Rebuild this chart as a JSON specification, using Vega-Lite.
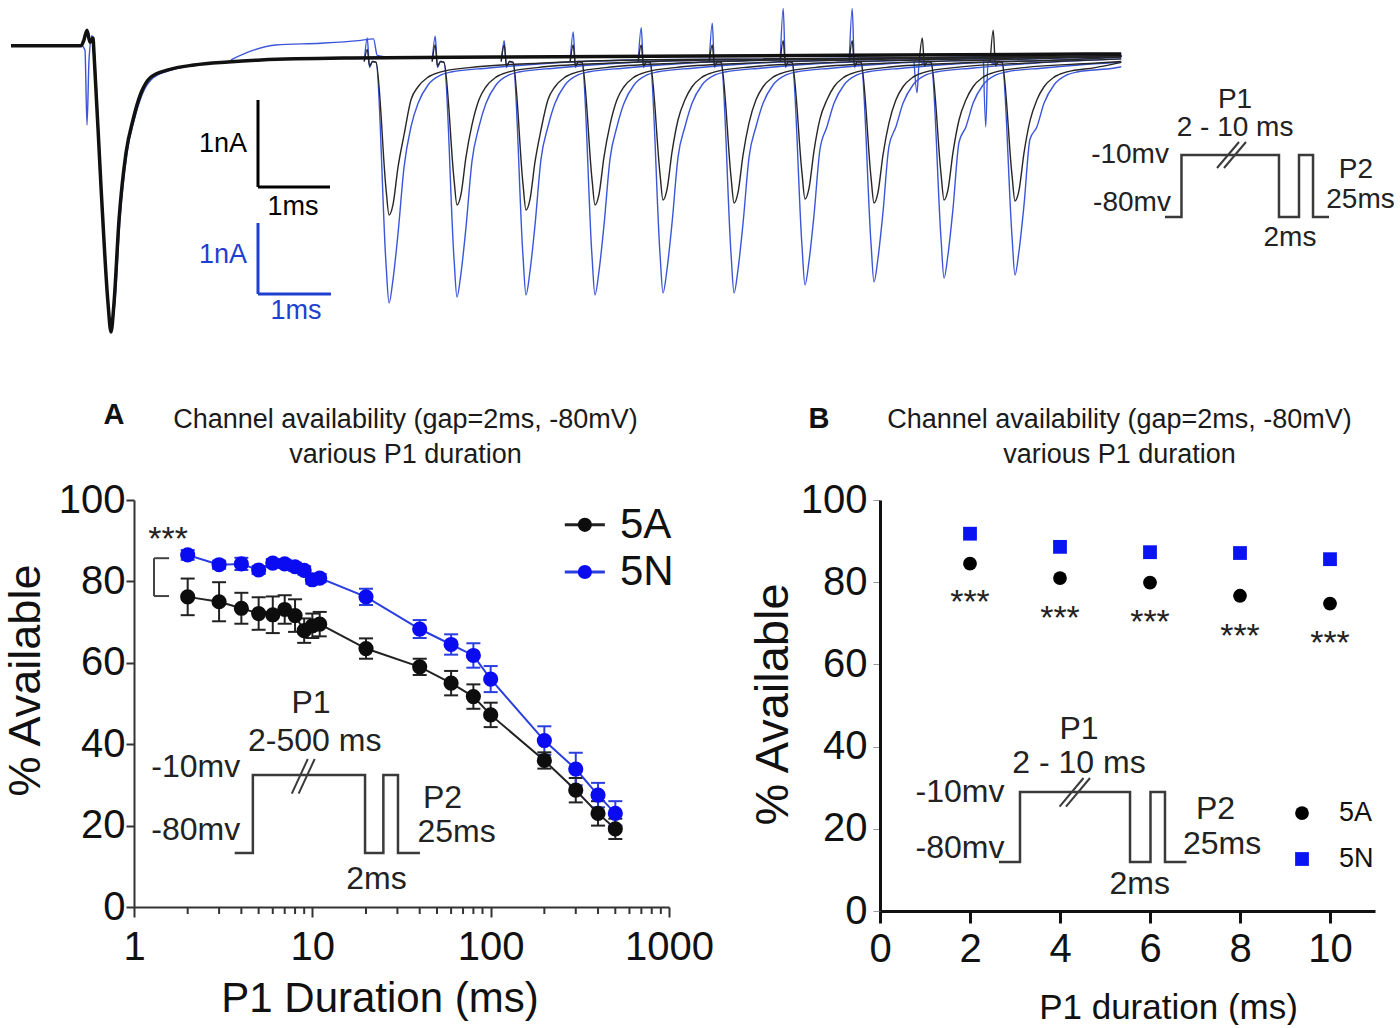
{
  "$schema": "https://vega.github.io/schema/vega-lite/v6.json",
  "padding": {"left": 3, "top": 0, "right": 0, "bottom": 0},
  "background": "white",
  "spacing": 60,
  "resolve": {"scale": {"color": "independent", "fill": "independent", "stroke": "independent", "shape": "independent"}},
  "config": {
    "view": {"stroke": null},
    "font": "Liberation Sans",
    "axis": {"grid": false}
  },
  "datasets": {
    "tr": [
      {"s":"k0","c":"k","t":-1.333,"i":-0.01},{"s":"k0","c":"k","t":-0.4,"i":-0.01},{"s":"k0","c":"k","t":-0.36,"i":0.06},{"s":"k0","c":"k","t":-0.32,"i":0.17},{"s":"k0","c":"k","t":-0.28,"i":0.03},{"s":"k0","c":"k","t":-0.24,"i":0.08},{"s":"k0","c":"k","t":-0.227,"i":-0.09},{"s":"k0","c":"k","t":-0.133,"i":-1.632},{"s":"k0","c":"k","t":-0.04,"i":-2.966},{"s":"k0","c":"k","t":0,"i":-3.299},{"s":"k0","c":"k","t":0.04,"i":-2.966},{"s":"k0","c":"k","t":0.107,"i":-2.011},{"s":"k0","c":"k","t":0.2,"i":-1.241},{"s":"k0","c":"k","t":0.293,"i":-0.862},{"s":"k0","c":"k","t":0.4,"i":-0.552},{"s":"k0","c":"k","t":0.533,"i":-0.368},{"s":"k0","c":"k","t":0.76,"i":-0.287},{"s":"k0","c":"k","t":1.107,"i":-0.23},{"s":"k0","c":"k","t":1.56,"i":-0.195},{"s":"k0","c":"k","t":2.0,"i":-0.172},{"s":"k0","c":"k","t":3.2,"i":-0.149},{"s":"k0","c":"k","t":5.2,"i":-0.138},{"s":"k0","c":"k","t":7.867,"i":-0.126},{"s":"k0","c":"k","t":10.53,"i":-0.115},{"s":"k0","c":"k","t":13.47,"i":-0.103},
      {"s":"b0","c":"b","t":-1.333,"i":0.0},{"s":"b0","c":"b","t":-0.4,"i":0.0},{"s":"b0","c":"b","t":-0.347,"i":-0.06},{"s":"b0","c":"b","t":-0.32,"i":-0.92},{"s":"b0","c":"b","t":-0.293,"i":-0.17},{"s":"b0","c":"b","t":-0.253,"i":0.11},{"s":"b0","c":"b","t":-0.227,"i":-0.05},{"s":"b0","c":"b","t":-0.133,"i":-1.6},{"s":"b0","c":"b","t":-0.04,"i":-2.95},{"s":"b0","c":"b","t":0,"i":-3.28},{"s":"b0","c":"b","t":0.053,"i":-2.95},{"s":"b0","c":"b","t":0.12,"i":-2.0},{"s":"b0","c":"b","t":0.213,"i":-1.24},{"s":"b0","c":"b","t":0.31,"i":-0.86},{"s":"b0","c":"b","t":0.42,"i":-0.56},{"s":"b0","c":"b","t":0.56,"i":-0.38},{"s":"b0","c":"b","t":0.8,"i":-0.29},{"s":"b0","c":"b","t":1.15,"i":-0.23},{"s":"b0","c":"b","t":1.6,"i":-0.195},{"s":"b0","c":"b","t":2.0,"i":-0.17},{"s":"b0","c":"b","t":3.2,"i":-0.15},{"s":"b0","c":"b","t":5.2,"i":-0.14},{"s":"b0","c":"b","t":7.867,"i":-0.128},{"s":"b0","c":"b","t":10.53,"i":-0.117},{"s":"b0","c":"b","t":13.47,"i":-0.105},
      {"s":"b11","c":"b","t":1.6,"i":-0.17},{"s":"b11","c":"b","t":1.9,"i":-0.06},{"s":"b11","c":"b","t":2.2,"i":0.0},{"s":"b11","c":"b","t":2.8,"i":0.02},{"s":"b11","c":"b","t":3.3,"i":0.05},{"s":"b11","c":"b","t":3.5,"i":0.07},{"s":"b11","c":"b","t":3.55,"i":-0.12},{"s":"b11","c":"b","t":3.8,"i":-0.15},
      {"s":"k1","c":"k","t":3.377,"i":-0.19},{"s":"k1","c":"k","t":3.417,"i":-0.05},{"s":"k1","c":"k","t":3.447,"i":-0.24},{"s":"k1","c":"k","t":3.487,"i":-0.19},{"s":"k1","c":"k","t":3.534,"i":-0.2},{"s":"k1","c":"k","t":3.667,"i":-1.654},{"s":"k1","c":"k","t":3.707,"i":-1.954},{"s":"k1","c":"k","t":3.76,"i":-1.834},{"s":"k1","c":"k","t":3.827,"i":-1.404},{"s":"k1","c":"k","t":3.907,"i":-1.034},{"s":"k1","c":"k","t":4.0,"i":-0.63},{"s":"k1","c":"k","t":4.094,"i":-0.48},{"s":"k1","c":"k","t":4.227,"i":-0.37},{"s":"k1","c":"k","t":4.4,"i":-0.31},{"s":"k1","c":"k","t":4.777,"i":-0.26},{"s":"k1","c":"k","t":5.707,"i":-0.21},{"s":"k1","c":"k","t":7.207,"i":-0.17},{"s":"k1","c":"k","t":13.47,"i":-0.13},
      {"s":"k2","c":"k","t":4.283,"i":-0.19},{"s":"k2","c":"k","t":4.323,"i":0.0},{"s":"k2","c":"k","t":4.353,"i":-0.24},{"s":"k2","c":"k","t":4.393,"i":-0.19},{"s":"k2","c":"k","t":4.44,"i":-0.2},{"s":"k2","c":"k","t":4.573,"i":-1.539},{"s":"k2","c":"k","t":4.613,"i":-1.839},{"s":"k2","c":"k","t":4.666,"i":-1.719},{"s":"k2","c":"k","t":4.733,"i":-1.289},{"s":"k2","c":"k","t":4.813,"i":-0.919},{"s":"k2","c":"k","t":4.906,"i":-0.63},{"s":"k2","c":"k","t":5.0,"i":-0.48},{"s":"k2","c":"k","t":5.133,"i":-0.37},{"s":"k2","c":"k","t":5.306,"i":-0.31},{"s":"k2","c":"k","t":5.683,"i":-0.26},{"s":"k2","c":"k","t":6.613,"i":-0.21},{"s":"k2","c":"k","t":8.113,"i":-0.17},{"s":"k2","c":"k","t":13.47,"i":-0.13},
      {"s":"k3","c":"k","t":5.203,"i":-0.19},{"s":"k3","c":"k","t":5.243,"i":0.0},{"s":"k3","c":"k","t":5.273,"i":-0.24},{"s":"k3","c":"k","t":5.313,"i":-0.19},{"s":"k3","c":"k","t":5.36,"i":-0.2},{"s":"k3","c":"k","t":5.493,"i":-1.597},{"s":"k3","c":"k","t":5.533,"i":-1.897},{"s":"k3","c":"k","t":5.586,"i":-1.777},{"s":"k3","c":"k","t":5.653,"i":-1.347},{"s":"k3","c":"k","t":5.733,"i":-0.977},{"s":"k3","c":"k","t":5.826,"i":-0.63},{"s":"k3","c":"k","t":5.92,"i":-0.48},{"s":"k3","c":"k","t":6.053,"i":-0.37},{"s":"k3","c":"k","t":6.226,"i":-0.31},{"s":"k3","c":"k","t":6.603,"i":-0.26},{"s":"k3","c":"k","t":7.533,"i":-0.21},{"s":"k3","c":"k","t":9.033,"i":-0.17},{"s":"k3","c":"k","t":13.47,"i":-0.13},
      {"s":"k4","c":"k","t":6.123,"i":-0.19},{"s":"k4","c":"k","t":6.163,"i":0.0},{"s":"k4","c":"k","t":6.193,"i":-0.24},{"s":"k4","c":"k","t":6.233,"i":-0.19},{"s":"k4","c":"k","t":6.28,"i":-0.2},{"s":"k4","c":"k","t":6.413,"i":-1.539},{"s":"k4","c":"k","t":6.453,"i":-1.839},{"s":"k4","c":"k","t":6.506,"i":-1.719},{"s":"k4","c":"k","t":6.573,"i":-1.289},{"s":"k4","c":"k","t":6.653,"i":-0.919},{"s":"k4","c":"k","t":6.746,"i":-0.63},{"s":"k4","c":"k","t":6.84,"i":-0.48},{"s":"k4","c":"k","t":6.973,"i":-0.37},{"s":"k4","c":"k","t":7.146,"i":-0.31},{"s":"k4","c":"k","t":7.523,"i":-0.26},{"s":"k4","c":"k","t":8.453,"i":-0.21},{"s":"k4","c":"k","t":9.953,"i":-0.17},{"s":"k4","c":"k","t":13.47,"i":-0.13},
      {"s":"k5","c":"k","t":7.03,"i":-0.19},{"s":"k5","c":"k","t":7.07,"i":0.0},{"s":"k5","c":"k","t":7.1,"i":-0.24},{"s":"k5","c":"k","t":7.14,"i":-0.19},{"s":"k5","c":"k","t":7.187,"i":-0.2},{"s":"k5","c":"k","t":7.32,"i":-1.482},{"s":"k5","c":"k","t":7.36,"i":-1.782},{"s":"k5","c":"k","t":7.413,"i":-1.662},{"s":"k5","c":"k","t":7.48,"i":-1.232},{"s":"k5","c":"k","t":7.56,"i":-0.862},{"s":"k5","c":"k","t":7.653,"i":-0.63},{"s":"k5","c":"k","t":7.747,"i":-0.48},{"s":"k5","c":"k","t":7.88,"i":-0.37},{"s":"k5","c":"k","t":8.053,"i":-0.31},{"s":"k5","c":"k","t":8.43,"i":-0.26},{"s":"k5","c":"k","t":9.36,"i":-0.21},{"s":"k5","c":"k","t":10.86,"i":-0.17},{"s":"k5","c":"k","t":13.47,"i":-0.13},
      {"s":"k6","c":"k","t":7.977,"i":-0.19},{"s":"k6","c":"k","t":8.017,"i":0.0},{"s":"k6","c":"k","t":8.047,"i":-0.24},{"s":"k6","c":"k","t":8.087,"i":-0.19},{"s":"k6","c":"k","t":8.134,"i":-0.2},{"s":"k6","c":"k","t":8.267,"i":-1.516},{"s":"k6","c":"k","t":8.307,"i":-1.816},{"s":"k6","c":"k","t":8.36,"i":-1.696},{"s":"k6","c":"k","t":8.427,"i":-1.266},{"s":"k6","c":"k","t":8.507,"i":-0.896},{"s":"k6","c":"k","t":8.6,"i":-0.63},{"s":"k6","c":"k","t":8.694,"i":-0.48},{"s":"k6","c":"k","t":8.827,"i":-0.37},{"s":"k6","c":"k","t":9.0,"i":-0.31},{"s":"k6","c":"k","t":9.377,"i":-0.26},{"s":"k6","c":"k","t":10.307,"i":-0.21},{"s":"k6","c":"k","t":11.807,"i":-0.17},{"s":"k6","c":"k","t":13.47,"i":-0.13},
      {"s":"k7","c":"k","t":8.923,"i":-0.19},{"s":"k7","c":"k","t":8.963,"i":0.05},{"s":"k7","c":"k","t":8.993,"i":-0.24},{"s":"k7","c":"k","t":9.033,"i":-0.19},{"s":"k7","c":"k","t":9.08,"i":-0.2},{"s":"k7","c":"k","t":9.213,"i":-1.47},{"s":"k7","c":"k","t":9.253,"i":-1.77},{"s":"k7","c":"k","t":9.306,"i":-1.65},{"s":"k7","c":"k","t":9.373,"i":-1.22},{"s":"k7","c":"k","t":9.453,"i":-0.85},{"s":"k7","c":"k","t":9.546,"i":-0.63},{"s":"k7","c":"k","t":9.64,"i":-0.48},{"s":"k7","c":"k","t":9.773,"i":-0.37},{"s":"k7","c":"k","t":9.946,"i":-0.31},{"s":"k7","c":"k","t":10.323,"i":-0.26},{"s":"k7","c":"k","t":11.253,"i":-0.21},{"s":"k7","c":"k","t":12.753,"i":-0.17},{"s":"k7","c":"k","t":13.47,"i":-0.14},
      {"s":"k8","c":"k","t":9.843,"i":-0.19},{"s":"k8","c":"k","t":9.883,"i":0.05},{"s":"k8","c":"k","t":9.913,"i":-0.24},{"s":"k8","c":"k","t":9.953,"i":-0.19},{"s":"k8","c":"k","t":10.0,"i":-0.2},{"s":"k8","c":"k","t":10.133,"i":-1.516},{"s":"k8","c":"k","t":10.173,"i":-1.816},{"s":"k8","c":"k","t":10.226,"i":-1.696},{"s":"k8","c":"k","t":10.293,"i":-1.266},{"s":"k8","c":"k","t":10.373,"i":-0.896},{"s":"k8","c":"k","t":10.466,"i":-0.63},{"s":"k8","c":"k","t":10.56,"i":-0.48},{"s":"k8","c":"k","t":10.693,"i":-0.37},{"s":"k8","c":"k","t":10.866,"i":-0.31},{"s":"k8","c":"k","t":11.243,"i":-0.26},{"s":"k8","c":"k","t":12.173,"i":-0.21},{"s":"k8","c":"k","t":13.47,"i":-0.16},
      {"s":"k9","c":"k","t":10.777,"i":-0.19},{"s":"k9","c":"k","t":10.817,"i":0.08},{"s":"k9","c":"k","t":10.847,"i":-0.24},{"s":"k9","c":"k","t":10.887,"i":-0.19},{"s":"k9","c":"k","t":10.934,"i":-0.2},{"s":"k9","c":"k","t":11.067,"i":-1.482},{"s":"k9","c":"k","t":11.107,"i":-1.782},{"s":"k9","c":"k","t":11.16,"i":-1.662},{"s":"k9","c":"k","t":11.227,"i":-1.232},{"s":"k9","c":"k","t":11.307,"i":-0.862},{"s":"k9","c":"k","t":11.4,"i":-0.63},{"s":"k9","c":"k","t":11.494,"i":-0.48},{"s":"k9","c":"k","t":11.627,"i":-0.37},{"s":"k9","c":"k","t":11.8,"i":-0.31},{"s":"k9","c":"k","t":12.177,"i":-0.26},{"s":"k9","c":"k","t":13.107,"i":-0.21},{"s":"k9","c":"k","t":13.47,"i":-0.19},
      {"s":"k10","c":"k","t":11.723,"i":-0.19},{"s":"k10","c":"k","t":11.763,"i":0.17},{"s":"k10","c":"k","t":11.793,"i":-0.24},{"s":"k10","c":"k","t":11.833,"i":-0.19},{"s":"k10","c":"k","t":11.88,"i":-0.2},{"s":"k10","c":"k","t":12.013,"i":-1.493},{"s":"k10","c":"k","t":12.053,"i":-1.793},{"s":"k10","c":"k","t":12.106,"i":-1.673},{"s":"k10","c":"k","t":12.173,"i":-1.243},{"s":"k10","c":"k","t":12.253,"i":-0.873},{"s":"k10","c":"k","t":12.346,"i":-0.63},{"s":"k10","c":"k","t":12.44,"i":-0.48},{"s":"k10","c":"k","t":12.573,"i":-0.37},{"s":"k10","c":"k","t":12.746,"i":-0.31},{"s":"k10","c":"k","t":13.123,"i":-0.26},{"s":"k10","c":"k","t":13.47,"i":-0.2},
      {"s":"b1","c":"b","t":3.377,"i":-0.19},{"s":"b1","c":"b","t":3.417,"i":0.08},{"s":"b1","c":"b","t":3.447,"i":-0.26},{"s":"b1","c":"b","t":3.487,"i":-0.19},{"s":"b1","c":"b","t":3.534,"i":-0.2},{"s":"b1","c":"b","t":3.667,"i":-2.516},{"s":"b1","c":"b","t":3.707,"i":-2.966},{"s":"b1","c":"b","t":3.76,"i":-2.696},{"s":"b1","c":"b","t":3.827,"i":-2.166},{"s":"b1","c":"b","t":3.907,"i":-1.406},{"s":"b1","c":"b","t":4.0,"i":-0.94},{"s":"b1","c":"b","t":4.094,"i":-0.67},{"s":"b1","c":"b","t":4.227,"i":-0.46},{"s":"b1","c":"b","t":4.4,"i":-0.345},{"s":"b1","c":"b","t":4.534,"i":-0.31},{"s":"b1","c":"b","t":5.037,"i":-0.264},{"s":"b1","c":"b","t":5.837,"i":-0.21},{"s":"b1","c":"b","t":7.207,"i":-0.17},{"s":"b1","c":"b","t":13.47,"i":-0.13},
      {"s":"b2","c":"b","t":4.283,"i":-0.19},{"s":"b2","c":"b","t":4.323,"i":0.1},{"s":"b2","c":"b","t":4.353,"i":-0.26},{"s":"b2","c":"b","t":4.393,"i":-0.19},{"s":"b2","c":"b","t":4.44,"i":-0.2},{"s":"b2","c":"b","t":4.573,"i":-2.447},{"s":"b2","c":"b","t":4.613,"i":-2.897},{"s":"b2","c":"b","t":4.666,"i":-2.627},{"s":"b2","c":"b","t":4.733,"i":-2.097},{"s":"b2","c":"b","t":4.813,"i":-1.337},{"s":"b2","c":"b","t":4.906,"i":-0.94},{"s":"b2","c":"b","t":5.0,"i":-0.67},{"s":"b2","c":"b","t":5.133,"i":-0.46},{"s":"b2","c":"b","t":5.306,"i":-0.345},{"s":"b2","c":"b","t":5.44,"i":-0.31},{"s":"b2","c":"b","t":5.943,"i":-0.264},{"s":"b2","c":"b","t":6.743,"i":-0.21},{"s":"b2","c":"b","t":8.113,"i":-0.17},{"s":"b2","c":"b","t":13.47,"i":-0.13},
      {"s":"b3","c":"b","t":5.203,"i":-0.19},{"s":"b3","c":"b","t":5.243,"i":0.05},{"s":"b3","c":"b","t":5.273,"i":-0.26},{"s":"b3","c":"b","t":5.313,"i":-0.19},{"s":"b3","c":"b","t":5.36,"i":-0.2},{"s":"b3","c":"b","t":5.493,"i":-2.424},{"s":"b3","c":"b","t":5.533,"i":-2.874},{"s":"b3","c":"b","t":5.586,"i":-2.604},{"s":"b3","c":"b","t":5.653,"i":-2.074},{"s":"b3","c":"b","t":5.733,"i":-1.314},{"s":"b3","c":"b","t":5.826,"i":-0.94},{"s":"b3","c":"b","t":5.92,"i":-0.67},{"s":"b3","c":"b","t":6.053,"i":-0.46},{"s":"b3","c":"b","t":6.226,"i":-0.345},{"s":"b3","c":"b","t":6.36,"i":-0.31},{"s":"b3","c":"b","t":6.863,"i":-0.264},{"s":"b3","c":"b","t":7.663,"i":-0.21},{"s":"b3","c":"b","t":9.033,"i":-0.17},{"s":"b3","c":"b","t":13.47,"i":-0.13},
      {"s":"b4","c":"b","t":6.123,"i":-0.19},{"s":"b4","c":"b","t":6.163,"i":0.15},{"s":"b4","c":"b","t":6.193,"i":-0.26},{"s":"b4","c":"b","t":6.233,"i":-0.19},{"s":"b4","c":"b","t":6.28,"i":-0.2},{"s":"b4","c":"b","t":6.413,"i":-2.424},{"s":"b4","c":"b","t":6.453,"i":-2.874},{"s":"b4","c":"b","t":6.506,"i":-2.604},{"s":"b4","c":"b","t":6.573,"i":-2.074},{"s":"b4","c":"b","t":6.653,"i":-1.314},{"s":"b4","c":"b","t":6.746,"i":-0.94},{"s":"b4","c":"b","t":6.84,"i":-0.67},{"s":"b4","c":"b","t":6.973,"i":-0.46},{"s":"b4","c":"b","t":7.146,"i":-0.345},{"s":"b4","c":"b","t":7.28,"i":-0.31},{"s":"b4","c":"b","t":7.783,"i":-0.264},{"s":"b4","c":"b","t":8.583,"i":-0.21},{"s":"b4","c":"b","t":9.953,"i":-0.17},{"s":"b4","c":"b","t":13.47,"i":-0.13},
      {"s":"b5","c":"b","t":7.03,"i":-0.19},{"s":"b5","c":"b","t":7.07,"i":0.2},{"s":"b5","c":"b","t":7.1,"i":-0.26},{"s":"b5","c":"b","t":7.14,"i":-0.19},{"s":"b5","c":"b","t":7.187,"i":-0.2},{"s":"b5","c":"b","t":7.32,"i":-2.401},{"s":"b5","c":"b","t":7.36,"i":-2.851},{"s":"b5","c":"b","t":7.413,"i":-2.581},{"s":"b5","c":"b","t":7.48,"i":-2.051},{"s":"b5","c":"b","t":7.56,"i":-1.291},{"s":"b5","c":"b","t":7.653,"i":-0.94},{"s":"b5","c":"b","t":7.747,"i":-0.67},{"s":"b5","c":"b","t":7.88,"i":-0.46},{"s":"b5","c":"b","t":8.053,"i":-0.345},{"s":"b5","c":"b","t":8.187,"i":-0.31},{"s":"b5","c":"b","t":8.69,"i":-0.264},{"s":"b5","c":"b","t":9.49,"i":-0.21},{"s":"b5","c":"b","t":10.86,"i":-0.17},{"s":"b5","c":"b","t":13.47,"i":-0.13},
      {"s":"b6","c":"b","t":7.977,"i":-0.19},{"s":"b6","c":"b","t":8.017,"i":0.25},{"s":"b6","c":"b","t":8.047,"i":-0.26},{"s":"b6","c":"b","t":8.087,"i":-0.19},{"s":"b6","c":"b","t":8.134,"i":-0.2},{"s":"b6","c":"b","t":8.267,"i":-2.401},{"s":"b6","c":"b","t":8.307,"i":-2.851},{"s":"b6","c":"b","t":8.36,"i":-2.581},{"s":"b6","c":"b","t":8.427,"i":-2.051},{"s":"b6","c":"b","t":8.507,"i":-1.291},{"s":"b6","c":"b","t":8.6,"i":-0.94},{"s":"b6","c":"b","t":8.694,"i":-0.67},{"s":"b6","c":"b","t":8.827,"i":-0.46},{"s":"b6","c":"b","t":9.0,"i":-0.345},{"s":"b6","c":"b","t":9.134,"i":-0.31},{"s":"b6","c":"b","t":9.637,"i":-0.264},{"s":"b6","c":"b","t":10.437,"i":-0.21},{"s":"b6","c":"b","t":11.807,"i":-0.17},{"s":"b6","c":"b","t":13.47,"i":-0.13},
      {"s":"b7","c":"b","t":8.923,"i":-0.19},{"s":"b7","c":"b","t":8.963,"i":0.42},{"s":"b7","c":"b","t":8.993,"i":-0.26},{"s":"b7","c":"b","t":9.033,"i":-0.19},{"s":"b7","c":"b","t":9.08,"i":-0.2},{"s":"b7","c":"b","t":9.213,"i":-2.309},{"s":"b7","c":"b","t":9.253,"i":-2.759},{"s":"b7","c":"b","t":9.306,"i":-2.489},{"s":"b7","c":"b","t":9.373,"i":-1.959},{"s":"b7","c":"b","t":9.453,"i":-1.199},{"s":"b7","c":"b","t":9.546,"i":-0.94},{"s":"b7","c":"b","t":9.64,"i":-0.67},{"s":"b7","c":"b","t":9.773,"i":-0.46},{"s":"b7","c":"b","t":9.946,"i":-0.345},{"s":"b7","c":"b","t":10.08,"i":-0.31},{"s":"b7","c":"b","t":10.583,"i":-0.264},{"s":"b7","c":"b","t":11.383,"i":-0.21},{"s":"b7","c":"b","t":12.753,"i":-0.17},{"s":"b7","c":"b","t":13.47,"i":-0.14},
      {"s":"b8","c":"b","t":9.843,"i":-0.19},{"s":"b8","c":"b","t":9.883,"i":0.42},{"s":"b8","c":"b","t":9.913,"i":-0.26},{"s":"b8","c":"b","t":9.953,"i":-0.19},{"s":"b8","c":"b","t":10.0,"i":-0.2},{"s":"b8","c":"b","t":10.133,"i":-2.274},{"s":"b8","c":"b","t":10.173,"i":-2.724},{"s":"b8","c":"b","t":10.226,"i":-2.454},{"s":"b8","c":"b","t":10.293,"i":-1.924},{"s":"b8","c":"b","t":10.373,"i":-1.164},{"s":"b8","c":"b","t":10.466,"i":-0.94},{"s":"b8","c":"b","t":10.56,"i":-0.67},{"s":"b8","c":"b","t":10.693,"i":-0.46},{"s":"b8","c":"b","t":10.866,"i":-0.345},{"s":"b8","c":"b","t":11.0,"i":-0.31},{"s":"b8","c":"b","t":11.503,"i":-0.264},{"s":"b8","c":"b","t":12.303,"i":-0.21},{"s":"b8","c":"b","t":13.47,"i":-0.16},
      {"s":"b9","c":"b","t":10.707,"i":-0.19},{"s":"b9","c":"b","t":10.747,"i":-0.55},{"s":"b9","c":"b","t":10.777,"i":-0.19},{"s":"b9","c":"b","t":10.847,"i":-0.22},{"s":"b9","c":"b","t":10.887,"i":-0.19},{"s":"b9","c":"b","t":10.934,"i":-0.2},{"s":"b9","c":"b","t":11.067,"i":-2.228},{"s":"b9","c":"b","t":11.107,"i":-2.678},{"s":"b9","c":"b","t":11.16,"i":-2.408},{"s":"b9","c":"b","t":11.227,"i":-1.878},{"s":"b9","c":"b","t":11.307,"i":-1.118},{"s":"b9","c":"b","t":11.4,"i":-0.94},{"s":"b9","c":"b","t":11.494,"i":-0.67},{"s":"b9","c":"b","t":11.627,"i":-0.46},{"s":"b9","c":"b","t":11.8,"i":-0.345},{"s":"b9","c":"b","t":11.934,"i":-0.31},{"s":"b9","c":"b","t":12.437,"i":-0.264},{"s":"b9","c":"b","t":13.237,"i":-0.21},{"s":"b9","c":"b","t":13.47,"i":-0.2},
      {"s":"b10","c":"b","t":11.633,"i":-0.19},{"s":"b10","c":"b","t":11.663,"i":-0.94},{"s":"b10","c":"b","t":11.693,"i":-0.19},{"s":"b10","c":"b","t":11.793,"i":-0.22},{"s":"b10","c":"b","t":11.833,"i":-0.19},{"s":"b10","c":"b","t":11.88,"i":-0.2},{"s":"b10","c":"b","t":12.013,"i":-2.194},{"s":"b10","c":"b","t":12.053,"i":-2.644},{"s":"b10","c":"b","t":12.106,"i":-2.374},{"s":"b10","c":"b","t":12.173,"i":-1.844},{"s":"b10","c":"b","t":12.253,"i":-1.084},{"s":"b10","c":"b","t":12.346,"i":-0.94},{"s":"b10","c":"b","t":12.44,"i":-0.67},{"s":"b10","c":"b","t":12.573,"i":-0.46},{"s":"b10","c":"b","t":12.746,"i":-0.345},{"s":"b10","c":"b","t":12.88,"i":-0.31},{"s":"b10","c":"b","t":13.383,"i":-0.264},{"s":"b10","c":"b","t":13.47,"i":-0.25}
    ],
    "sb": [
      {"x":1.96,"x2":1.96,"y":-0.632,"y2":-1.632,"c":"k"},
      {"x":1.96,"x2":2.92,"y":-1.632,"y2":-1.632,"c":"k"},
      {"x":1.96,"x2":1.96,"y":-2.046,"y2":-2.862,"c":"b"},
      {"x":1.96,"x2":2.933,"y":-2.862,"y2":-2.862,"c":"b"}
    ],
    "sl": [
      {"x":1.493,"y":-1.138,"txt":"1nA","c":"k"},
      {"x":2.427,"y":-1.862,"txt":"1ms","c":"k"},
      {"x":1.493,"y":-2.414,"txt":"1nA","c":"b"},
      {"x":2.467,"y":-3.057,"txt":"1ms","c":"b"}
    ],
    "ptL": [
      {"o":1,"x":14.053,"v":-1.977},{"o":2,"x":14.273,"v":-1.977},{"o":3,"x":14.273,"v":-1.264},{"o":4,"x":15.573,"v":-1.264},{"o":5,"x":15.573,"v":-1.977},{"o":6,"x":15.84,"v":-1.977},{"o":7,"x":15.84,"v":-1.264},{"o":8,"x":16.027,"v":-1.264},{"o":9,"x":16.027,"v":-1.977},{"o":10,"x":16.24,"v":-1.977}
    ],
    "ptS": [
      {"x":14.747,"x2":15.04,"v":-1.414,"v2":-1.115},{"x":14.84,"x2":15.133,"v":-1.414,"v2":-1.115}
    ],
    "ptT": [
      {"x":13.587,"v":-1.264,"txt":"-10mv"},{"x":13.613,"v":-1.816,"txt":"-80mv"},{"x":14.987,"v":-0.632,"txt":"P1"},{"x":14.987,"v":-0.954,"txt":"2 - 10 ms"},{"x":16.6,"v":-1.437,"txt":"P2"},{"x":16.66,"v":-1.782,"txt":"25ms"},{"x":15.72,"v":-2.218,"txt":"2ms"}
    ],
    "paL": [
      {"o":1,"x":3.67,"v":13.27},{"o":2,"x":4.64,"v":13.27},{"o":3,"x":4.64,"v":32.43},{"o":4,"x":19.75,"v":32.43},{"o":5,"x":19.75,"v":13.27},{"o":6,"x":25.02,"v":13.27},{"o":7,"x":25.02,"v":32.43},{"o":8,"x":30.22,"v":32.43},{"o":9,"x":30.22,"v":13.27},{"o":10,"x":40.12,"v":13.27}
    ],
    "paS": [
      {"x":7.67,"x2":9.43,"v":27.86,"v2":36.36},{"x":8.38,"x2":10.31,"v":27.86,"v2":36.36}
    ],
    "paT": [
      {"x":9.83,"v":50.2,"txt":"P1"},{"x":10.31,"v":40.9,"txt":"2-500 ms"},{"x":2.22,"v":34.4,"txt":"-10mv"},{"x":2.22,"v":18.9,"txt":"-80mv"},{"x":53.7,"v":26.9,"txt":"P2"},{"x":64.4,"v":18.4,"txt":"25ms"},{"x":22.88,"v":6.9,"txt":"2ms"}
    ],
    "minA": [
      {"d":2},{"d":3},{"d":4},{"d":5},{"d":6},{"d":7},{"d":8},{"d":9},
      {"d":20},{"d":30},{"d":40},{"d":50},{"d":60},{"d":70},{"d":80},{"d":90},
      {"d":200},{"d":300},{"d":400},{"d":500},{"d":600},{"d":700},{"d":800},{"d":900}
    ],
    "pa": [
      {"d":2,"g":"5A","v":76.2,"lo":71.7,"hi":80.7},{"d":3,"g":"5A","v":75.0,"lo":70.2,"hi":79.8},{"d":4,"g":"5A","v":73.4,"lo":69.6,"hi":77.2},{"d":5,"g":"5A","v":72.1,"lo":68.1,"hi":76.1},{"d":6,"g":"5A","v":71.8,"lo":67.3,"hi":76.3},{"d":7,"g":"5A","v":73.1,"lo":69.6,"hi":76.6},{"d":8,"g":"5A","v":71.6,"lo":67.6,"hi":75.6},{"d":9,"g":"5A","v":67.9,"lo":64.9,"hi":70.9},{"d":10,"g":"5A","v":69.1,"lo":66.1,"hi":72.1},{"d":11,"g":"5A","v":69.5,"lo":66.5,"hi":72.5},{"d":20,"g":"5A","v":63.5,"lo":61.0,"hi":66.0},{"d":40,"g":"5A","v":59.0,"lo":57.0,"hi":61.0},{"d":60,"g":"5A","v":55.0,"lo":52.0,"hi":58.0},{"d":80,"g":"5A","v":51.7,"lo":48.7,"hi":54.7},{"d":100,"g":"5A","v":47.2,"lo":44.2,"hi":50.2},{"d":200,"g":"5A","v":36.0,"lo":34.0,"hi":38.0},{"d":300,"g":"5A","v":28.7,"lo":25.7,"hi":31.7},{"d":400,"g":"5A","v":23.0,"lo":20.0,"hi":26.0},{"d":500,"g":"5A","v":19.2,"lo":16.7,"hi":21.7},
      {"d":2,"g":"5N","v":86.5,"lo":85.3,"hi":87.7},{"d":3,"g":"5N","v":84.1,"lo":83.1,"hi":85.1},{"d":4,"g":"5N","v":84.3,"lo":82.8,"hi":85.8},{"d":5,"g":"5N","v":82.8,"lo":81.8,"hi":83.8},{"d":6,"g":"5N","v":84.5,"lo":83.5,"hi":85.5},{"d":7,"g":"5N","v":84.3,"lo":83.3,"hi":85.3},{"d":8,"g":"5N","v":83.6,"lo":82.6,"hi":84.6},{"d":9,"g":"5N","v":82.7,"lo":81.7,"hi":83.7},{"d":10,"g":"5N","v":80.4,"lo":79.4,"hi":81.4},{"d":11,"g":"5N","v":80.8,"lo":79.8,"hi":81.8},{"d":20,"g":"5N","v":76.2,"lo":74.2,"hi":78.2},{"d":40,"g":"5N","v":68.3,"lo":66.1,"hi":70.5},{"d":60,"g":"5N","v":64.5,"lo":62.0,"hi":67.0},{"d":80,"g":"5N","v":61.8,"lo":58.8,"hi":64.8},{"d":100,"g":"5N","v":56.0,"lo":52.8,"hi":59.2},{"d":200,"g":"5N","v":40.9,"lo":37.4,"hi":44.4},{"d":300,"g":"5N","v":33.9,"lo":29.9,"hi":37.9},{"d":400,"g":"5N","v":27.5,"lo":24.5,"hi":30.5},{"d":500,"g":"5N","v":23.0,"lo":20.0,"hi":26.0}
    ],
    "legA": [
      {"g":"5A","x1":260.4,"x2":436.9,"xc":337.4,"xt":530.5,"y":93.9},
      {"g":"5N","x1":260.4,"x2":436.9,"xc":337.4,"xt":530.5,"y":82.3}
    ],
    "br": [
      {"x":1.295,"x2":1.295,"y":76.4,"y2":85.7},{"x":1.295,"x2":1.573,"y":85.7,"y2":85.7},{"x":1.295,"x2":1.573,"y":76.4,"y2":76.4}
    ],
    "starA": [{"x":1.554,"y":92.1,"txt":"***"}],
    "letA": [{"x":0.772,"y":120.9,"txt":"A"}],
    "pbL": [
      {"o":1,"x":2.644,"v":11.92},{"o":2,"x":3.111,"v":11.92},{"o":3,"x":3.111,"v":28.95},{"o":4,"x":5.556,"v":28.95},{"o":5,"x":5.556,"v":11.92},{"o":6,"x":6.011,"v":11.92},{"o":7,"x":6.011,"v":28.95},{"o":8,"x":6.333,"v":28.95},{"o":9,"x":6.333,"v":11.92},{"o":10,"x":6.811,"v":11.92}
    ],
    "pbS": [
      {"x":3.991,"x2":4.522,"v":25.38,"v2":32.36},{"x":4.133,"x2":4.667,"v":25.38,"v2":32.36}
    ],
    "pbT": [
      {"x":4.422,"v":44.28,"txt":"P1"},{"x":4.422,"v":36.13,"txt":"2 - 10 ms"},{"x":1.778,"v":28.86,"txt":"-10mv"},{"x":1.778,"v":15.43,"txt":"-80mv"},{"x":7.456,"v":24.87,"txt":"P2"},{"x":7.6,"v":16.42,"txt":"25ms"},{"x":5.771,"v":6.47,"txt":"2ms"}
    ],
    "pb": [
      {"d":2,"g":"5A","v":84.5},{"d":4,"g":"5A","v":81.0},{"d":6,"g":"5A","v":79.9},{"d":8,"g":"5A","v":76.7},{"d":10,"g":"5A","v":74.8},
      {"d":2,"g":"5N","v":91.8},{"d":4,"g":"5N","v":88.6},{"d":6,"g":"5N","v":87.3},{"d":8,"g":"5N","v":87.1},{"d":10,"g":"5N","v":85.6}
    ],
    "legB": [
      {"g":"5A","x":9.378,"xt":10.2,"y":23.84},
      {"g":"5N","x":9.378,"xt":10.2,"y":12.65}
    ],
    "starB": [{"d":2,"y":76.8},{"d":4,"y":73.1},{"d":6,"y":72.1},{"d":8,"y":68.7},{"d":10,"y":66.9}],
    "letB": [{"x":-1.356,"y":119.7,"txt":"B"}]
  },
  "vconcat": [
    {
      "width": 1264,
      "height": 340,
      "layer": [
        {"data": {"name": "tr"}, "transform": [{"filter": "datum.c == 'b'"}],
         "mark": {"type": "line", "color": "#3b55d9", "strokeWidth": 1.4, "interpolate": "monotone", "strokeJoin": "round"},
         "encoding": {"x": {"field": "t", "type": "quantitative", "scale": {"domain": [0.3067, 17.16]}, "axis": null},
                      "y": {"field": "i", "type": "quantitative", "scale": {"domain": [-3.391, 0.517]}, "axis": null},
                      "detail": {"field": "s"}}},
        {"data": {"name": "tr"}, "transform": [{"filter": "datum.c == 'k' && datum.s != 'k0'"}],
         "mark": {"type": "line", "color": "#262626", "strokeWidth": 1.4, "interpolate": "monotone", "strokeJoin": "round"},
         "encoding": {"x": {"field": "t", "type": "quantitative", "scale": {"domain": [0.3067, 17.16]}, "axis": null},
                      "y": {"field": "i", "type": "quantitative", "scale": {"domain": [-3.391, 0.517]}, "axis": null},
                      "detail": {"field": "s"}}},
        {"data": {"name": "tr"}, "transform": [{"filter": "datum.s == 'k0'"}],
         "mark": {"type": "line", "color": "#111111", "strokeWidth": 3.5, "interpolate": "monotone", "strokeJoin": "round"},
         "encoding": {"x": {"field": "t", "type": "quantitative", "scale": {"domain": [0.3067, 17.16]}, "axis": null},
                      "y": {"field": "i", "type": "quantitative", "scale": {"domain": [-3.391, 0.517]}, "axis": null}}},
        {"data": {"name": "sb"},
         "mark": {"type": "rule", "strokeWidth": 3},
         "encoding": {"x": {"field": "x", "type": "quantitative", "scale": {"domain": [0.3067, 17.16]}, "axis": null},
                      "x2": {"field": "x2"},
                      "y": {"field": "y", "type": "quantitative", "scale": {"domain": [-3.391, 0.517]}, "axis": null},
                      "y2": {"field": "y2"},
                      "color": {"field": "c", "type": "nominal", "scale": {"domain": ["k", "b"], "range": ["#000000", "#1f3fd0"]}, "legend": null}}},
        {"data": {"name": "sl"},
         "mark": {"type": "text", "fontSize": 27, "font": "Liberation Sans"},
         "encoding": {"x": {"field": "x", "type": "quantitative", "scale": {"domain": [0.3067, 17.16]}, "axis": null},
                      "y": {"field": "y", "type": "quantitative", "scale": {"domain": [-3.391, 0.517]}, "axis": null},
                      "text": {"field": "txt"},
                      "color": {"field": "c", "type": "nominal", "scale": {"domain": ["k", "b"], "range": ["#000000", "#1f3fd0"]}, "legend": null}}},
        {"data": {"name": "ptL"},
         "mark": {"type": "line", "color": "#3a3a3a", "strokeWidth": 2.5},
         "encoding": {"x": {"field": "x", "type": "quantitative", "scale": {"domain": [0.3067, 17.16]}, "axis": null},
                      "y": {"field": "v", "type": "quantitative", "scale": {"domain": [-3.391, 0.517]}, "axis": null},
                      "order": {"field": "o"}}},
        {"data": {"name": "ptS"},
         "mark": {"type": "rule", "color": "#3a3a3a", "strokeWidth": 2},
         "encoding": {"x": {"field": "x", "type": "quantitative", "scale": {"domain": [0.3067, 17.16]}, "axis": null},
                      "x2": {"field": "x2"},
                      "y": {"field": "v", "type": "quantitative", "scale": {"domain": [-3.391, 0.517]}, "axis": null},
                      "y2": {"field": "v2"}}},
        {"data": {"name": "ptT"},
         "mark": {"type": "text", "fontSize": 28, "font": "Liberation Sans", "color": "#222222"},
         "encoding": {"x": {"field": "x", "type": "quantitative", "scale": {"domain": [0.3067, 17.16]}, "axis": null},
                      "y": {"field": "v", "type": "quantitative", "scale": {"domain": [-3.391, 0.517]}, "axis": null},
                      "text": {"field": "txt"}}}
      ]
    },
    {
      "spacing": 35,
      "resolve": {"scale": {"color": "independent", "fill": "independent", "stroke": "independent", "shape": "independent"}},
      "hconcat": [
        {
          "width": 535,
          "height": 407,
          "title": {"text": ["Channel availability (gap=2ms, -80mV)", "various P1 duration"], "fontSize": 27, "font": "Liberation Sans", "fontWeight": "normal", "color": "#1a1a1a", "anchor": "middle", "frame": "group", "offset": -68, "lineHeight": 35, "dx": 4},
          "layer": [
            {"data": {"name": "paL"},
             "mark": {"type": "line", "color": "#3a3a3a", "strokeWidth": 2.5},
             "encoding": {"x": {"field": "x", "type": "quantitative", "scale": {"type": "log", "domain": [1, 1000]}},
                          "y": {"field": "v", "type": "quantitative", "scale": {"domain": [0, 100]}},
                          "order": {"field": "o"}}},
            {"data": {"name": "paS"},
             "mark": {"type": "rule", "color": "#3a3a3a", "strokeWidth": 2},
             "encoding": {"x": {"field": "x", "type": "quantitative", "scale": {"type": "log", "domain": [1, 1000]}},
                          "x2": {"field": "x2"},
                          "y": {"field": "v", "type": "quantitative", "scale": {"domain": [0, 100]}},
                          "y2": {"field": "v2"}}},
            {"data": {"name": "paT"},
             "mark": {"type": "text", "fontSize": 32, "font": "Liberation Sans", "color": "#222222"},
             "encoding": {"x": {"field": "x", "type": "quantitative", "scale": {"type": "log", "domain": [1, 1000]}},
                          "y": {"field": "v", "type": "quantitative", "scale": {"domain": [0, 100]}},
                          "text": {"field": "txt"}}},
            {"data": {"name": "minA"},
             "mark": {"type": "tick", "orient": "vertical", "size": 6, "thickness": 2, "color": "#333333", "opacity": 1, "yOffset": 4},
             "encoding": {"x": {"field": "d", "type": "quantitative", "scale": {"type": "log", "domain": [1, 1000]}},
                          "y": {"datum": 0, "type": "quantitative", "scale": {"domain": [0, 100]}}}},
            {"data": {"name": "pa"},
             "mark": {"type": "rule", "strokeWidth": 2},
             "encoding": {"x": {"field": "d", "type": "quantitative", "scale": {"type": "log", "domain": [1, 1000]}},
                          "y": {"field": "lo", "type": "quantitative", "scale": {"domain": [0, 100]}},
                          "y2": {"field": "hi"},
                          "color": {"field": "g", "type": "nominal", "scale": {"domain": ["5A", "5N"], "range": ["#222222", "#2a3ee0"]}, "legend": null}}},
            {"data": {"name": "pa"},
             "mark": {"type": "tick", "orient": "horizontal", "size": 14, "thickness": 2, "opacity": 1},
             "encoding": {"x": {"field": "d", "type": "quantitative", "scale": {"type": "log", "domain": [1, 1000]}},
                          "y": {"field": "lo", "type": "quantitative", "scale": {"domain": [0, 100]}},
                          "color": {"field": "g", "type": "nominal", "scale": {"domain": ["5A", "5N"], "range": ["#222222", "#2a3ee0"]}, "legend": null}}},
            {"data": {"name": "pa"},
             "mark": {"type": "tick", "orient": "horizontal", "size": 14, "thickness": 2, "opacity": 1},
             "encoding": {"x": {"field": "d", "type": "quantitative", "scale": {"type": "log", "domain": [1, 1000]}},
                          "y": {"field": "hi", "type": "quantitative", "scale": {"domain": [0, 100]}},
                          "color": {"field": "g", "type": "nominal", "scale": {"domain": ["5A", "5N"], "range": ["#222222", "#2a3ee0"]}, "legend": null}}},
            {"data": {"name": "pa"},
             "mark": {"type": "line", "strokeWidth": 2},
             "encoding": {"x": {"field": "d", "type": "quantitative", "scale": {"type": "log", "domain": [1, 1000]},
                                "axis": {"title": "P1 Duration (ms)", "values": [1, 10, 100, 1000], "format": "d",
                                         "tickSize": 10, "tickWidth": 2, "tickColor": "#333333", "domainColor": "#333333", "domainWidth": 2,
                                         "labelFont": "Liberation Sans", "labelFontSize": 40, "labelColor": "#111111", "labelPadding": 10,
                                         "labelFlush": false, "labelOverlap": false, "labelBound": false,
                                         "titleFont": "Liberation Sans", "titleFontSize": 42, "titleFontWeight": "normal", "titleColor": "#111111",
                                         "titleX": 245.5, "titleY": 91, "titleBaseline": "middle", "titleAlign": "center"}},
                          "y": {"field": "v", "type": "quantitative", "scale": {"domain": [0, 100]},
                                "axis": {"title": "% Available", "values": [0, 20, 40, 60, 80, 100],
                                         "tickSize": 8, "tickWidth": 2, "tickColor": "#333333", "domainColor": "#333333", "domainWidth": 2,
                                         "labelFont": "Liberation Sans", "labelFontSize": 40, "labelColor": "#111111", "labelPadding": 1,
                                         "labelFlush": false, "labelOverlap": false,
                                         "titleFont": "Liberation Sans", "titleFontSize": 45, "titleFontWeight": "normal", "titleColor": "#111111",
                                         "titleX": -108.5, "titleY": 180, "titleBaseline": "middle", "titleAlign": "center", "titleAngle": 270}},
                          "color": {"field": "g", "type": "nominal", "scale": {"domain": ["5A", "5N"], "range": ["#222222", "#2a3ee0"]}, "legend": null}}},
            {"data": {"name": "pa"},
             "mark": {"type": "point", "filled": true, "size": 230, "strokeWidth": 1, "opacity": 1},
             "encoding": {"x": {"field": "d", "type": "quantitative", "scale": {"type": "log", "domain": [1, 1000]}},
                          "y": {"field": "v", "type": "quantitative", "scale": {"domain": [0, 100]}},
                          "fill": {"field": "g", "type": "nominal", "scale": {"domain": ["5A", "5N"], "range": ["#0d0d0d", "#0b0bf2"]}, "legend": null}}},
            {"data": {"name": "legA"},
             "mark": {"type": "rule", "strokeWidth": 3},
             "encoding": {"x": {"field": "x1", "type": "quantitative", "scale": {"type": "log", "domain": [1, 1000]}},
                          "x2": {"field": "x2"},
                          "y": {"field": "y", "type": "quantitative", "scale": {"domain": [0, 100]}},
                          "color": {"field": "g", "type": "nominal", "scale": {"domain": ["5A", "5N"], "range": ["#222222", "#2a3ee0"]}, "legend": null}}},
            {"data": {"name": "legA"},
             "mark": {"type": "point", "filled": true, "size": 200, "opacity": 1},
             "encoding": {"x": {"field": "xc", "type": "quantitative", "scale": {"type": "log", "domain": [1, 1000]}},
                          "y": {"field": "y", "type": "quantitative", "scale": {"domain": [0, 100]}},
                          "fill": {"field": "g", "type": "nominal", "scale": {"domain": ["5A", "5N"], "range": ["#0d0d0d", "#0b0bf2"]}, "legend": null}}},
            {"data": {"name": "legA"},
             "mark": {"type": "text", "fontSize": 42, "font": "Liberation Sans", "color": "#111111", "align": "left"},
             "encoding": {"x": {"field": "xt", "type": "quantitative", "scale": {"type": "log", "domain": [1, 1000]}},
                          "y": {"field": "y", "type": "quantitative", "scale": {"domain": [0, 100]}},
                          "text": {"field": "g"}}},
            {"data": {"name": "br"},
             "mark": {"type": "rule", "strokeWidth": 2, "color": "#444444"},
             "encoding": {"x": {"field": "x", "type": "quantitative", "scale": {"type": "log", "domain": [1, 1000]}},
                          "x2": {"field": "x2"},
                          "y": {"field": "y", "type": "quantitative", "scale": {"domain": [0, 100]}},
                          "y2": {"field": "y2"}}},
            {"data": {"name": "starA"},
             "mark": {"type": "text", "fontSize": 34, "font": "Liberation Sans", "color": "#222222", "dy": 8},
             "encoding": {"x": {"field": "x", "type": "quantitative", "scale": {"type": "log", "domain": [1, 1000]}},
                          "y": {"field": "y", "type": "quantitative", "scale": {"domain": [0, 100]}},
                          "text": {"field": "txt"}}},
            {"data": {"name": "letA"},
             "mark": {"type": "text", "fontSize": 29, "font": "Liberation Sans", "fontWeight": "bold", "color": "#111111"},
             "encoding": {"x": {"field": "x", "type": "quantitative", "scale": {"type": "log", "domain": [1, 1000]}},
                          "y": {"field": "y", "type": "quantitative", "scale": {"domain": [0, 100]}},
                          "text": {"field": "txt"}}}
          ]
        },
        {
          "width": 495,
          "height": 411,
          "title": {"text": ["Channel availability (gap=2ms, -80mV)", "various P1 duration"], "fontSize": 27, "font": "Liberation Sans", "fontWeight": "normal", "color": "#1a1a1a", "anchor": "middle", "frame": "group", "offset": -64, "lineHeight": 35, "dx": -8},
          "layer": [
            {"data": {"name": "pbL"},
             "mark": {"type": "line", "color": "#3a3a3a", "strokeWidth": 2.5},
             "encoding": {"x": {"field": "x", "type": "quantitative", "scale": {"domain": [0, 11]}},
                          "y": {"field": "v", "type": "quantitative", "scale": {"domain": [0, 100]}},
                          "order": {"field": "o"}}},
            {"data": {"name": "pbS"},
             "mark": {"type": "rule", "color": "#3a3a3a", "strokeWidth": 2},
             "encoding": {"x": {"field": "x", "type": "quantitative", "scale": {"domain": [0, 11]}},
                          "x2": {"field": "x2"},
                          "y": {"field": "v", "type": "quantitative", "scale": {"domain": [0, 100]}},
                          "y2": {"field": "v2"}}},
            {"data": {"name": "pbT"},
             "mark": {"type": "text", "fontSize": 32, "font": "Liberation Sans", "color": "#222222"},
             "encoding": {"x": {"field": "x", "type": "quantitative", "scale": {"domain": [0, 11]}},
                          "y": {"field": "v", "type": "quantitative", "scale": {"domain": [0, 100]}},
                          "text": {"field": "txt"}}},
            {"data": {"name": "pb"},
             "mark": {"type": "point", "filled": true, "size": 190, "opacity": 1, "strokeWidth": 0},
             "encoding": {"x": {"field": "d", "type": "quantitative", "scale": {"domain": [0, 11]},
                                "axis": {"title": "P1 duration (ms)", "values": [0, 2, 4, 6, 8, 10],
                                         "tickSize": 12, "tickWidth": 3, "tickColor": "#111111", "domainColor": "#111111", "domainWidth": 3,
                                         "labelFont": "Liberation Sans", "labelFontSize": 40, "labelColor": "#111111", "labelPadding": 6,
                                         "labelFlush": false, "labelOverlap": false,
                                         "titleFont": "Liberation Sans", "titleFontSize": 35, "titleFontWeight": "normal", "titleColor": "#111111",
                                         "titleX": 288, "titleY": 96, "titleBaseline": "middle", "titleAlign": "center"}},
                          "y": {"field": "v", "type": "quantitative", "scale": {"domain": [0, 100]},
                                "axis": {"title": "% Available", "values": [0, 20, 40, 60, 80, 100],
                                         "tickSize": 7, "tickWidth": 1, "tickColor": "#999999", "domainColor": "#111111", "domainWidth": 3,
                                         "labelFont": "Liberation Sans", "labelFontSize": 40, "labelColor": "#111111", "labelPadding": 6,
                                         "labelFlush": false, "labelOverlap": false,
                                         "titleFont": "Liberation Sans", "titleFontSize": 47, "titleFontWeight": "normal", "titleColor": "#111111",
                                         "titleX": -107, "titleY": 204, "titleBaseline": "middle", "titleAlign": "center", "titleAngle": 270}},
                          "shape": {"field": "g", "type": "nominal", "scale": {"domain": ["5A", "5N"], "range": ["circle", "square"]}, "legend": null},
                          "fill": {"field": "g", "type": "nominal", "scale": {"domain": ["5A", "5N"], "range": ["#000000", "#0a14f2"]}, "legend": null}}},
            {"data": {"name": "legB"},
             "mark": {"type": "point", "filled": true, "size": 190, "opacity": 1, "strokeWidth": 0},
             "encoding": {"x": {"field": "x", "type": "quantitative", "scale": {"domain": [0, 11]}},
                          "y": {"field": "y", "type": "quantitative", "scale": {"domain": [0, 100]}},
                          "shape": {"field": "g", "type": "nominal", "scale": {"domain": ["5A", "5N"], "range": ["circle", "square"]}, "legend": null},
                          "fill": {"field": "g", "type": "nominal", "scale": {"domain": ["5A", "5N"], "range": ["#000000", "#0a14f2"]}, "legend": null}}},
            {"data": {"name": "legB"},
             "mark": {"type": "text", "fontSize": 27, "font": "Liberation Sans", "color": "#111111", "align": "left"},
             "encoding": {"x": {"field": "xt", "type": "quantitative", "scale": {"domain": [0, 11]}},
                          "y": {"field": "y", "type": "quantitative", "scale": {"domain": [0, 100]}},
                          "text": {"field": "g"}}},
            {"data": {"name": "starB"},
             "mark": {"type": "text", "fontSize": 34, "font": "Liberation Sans", "color": "#222222", "dy": 8, "text": "***"},
             "encoding": {"x": {"field": "d", "type": "quantitative", "scale": {"domain": [0, 11]}},
                          "y": {"field": "y", "type": "quantitative", "scale": {"domain": [0, 100]}}}},
            {"data": {"name": "letB"},
             "mark": {"type": "text", "fontSize": 29, "font": "Liberation Sans", "fontWeight": "bold", "color": "#111111"},
             "encoding": {"x": {"field": "x", "type": "quantitative", "scale": {"domain": [0, 11]}},
                          "y": {"field": "y", "type": "quantitative", "scale": {"domain": [0, 100]}},
                          "text": {"field": "txt"}}}
          ]
        }
      ]
    }
  ]
}
